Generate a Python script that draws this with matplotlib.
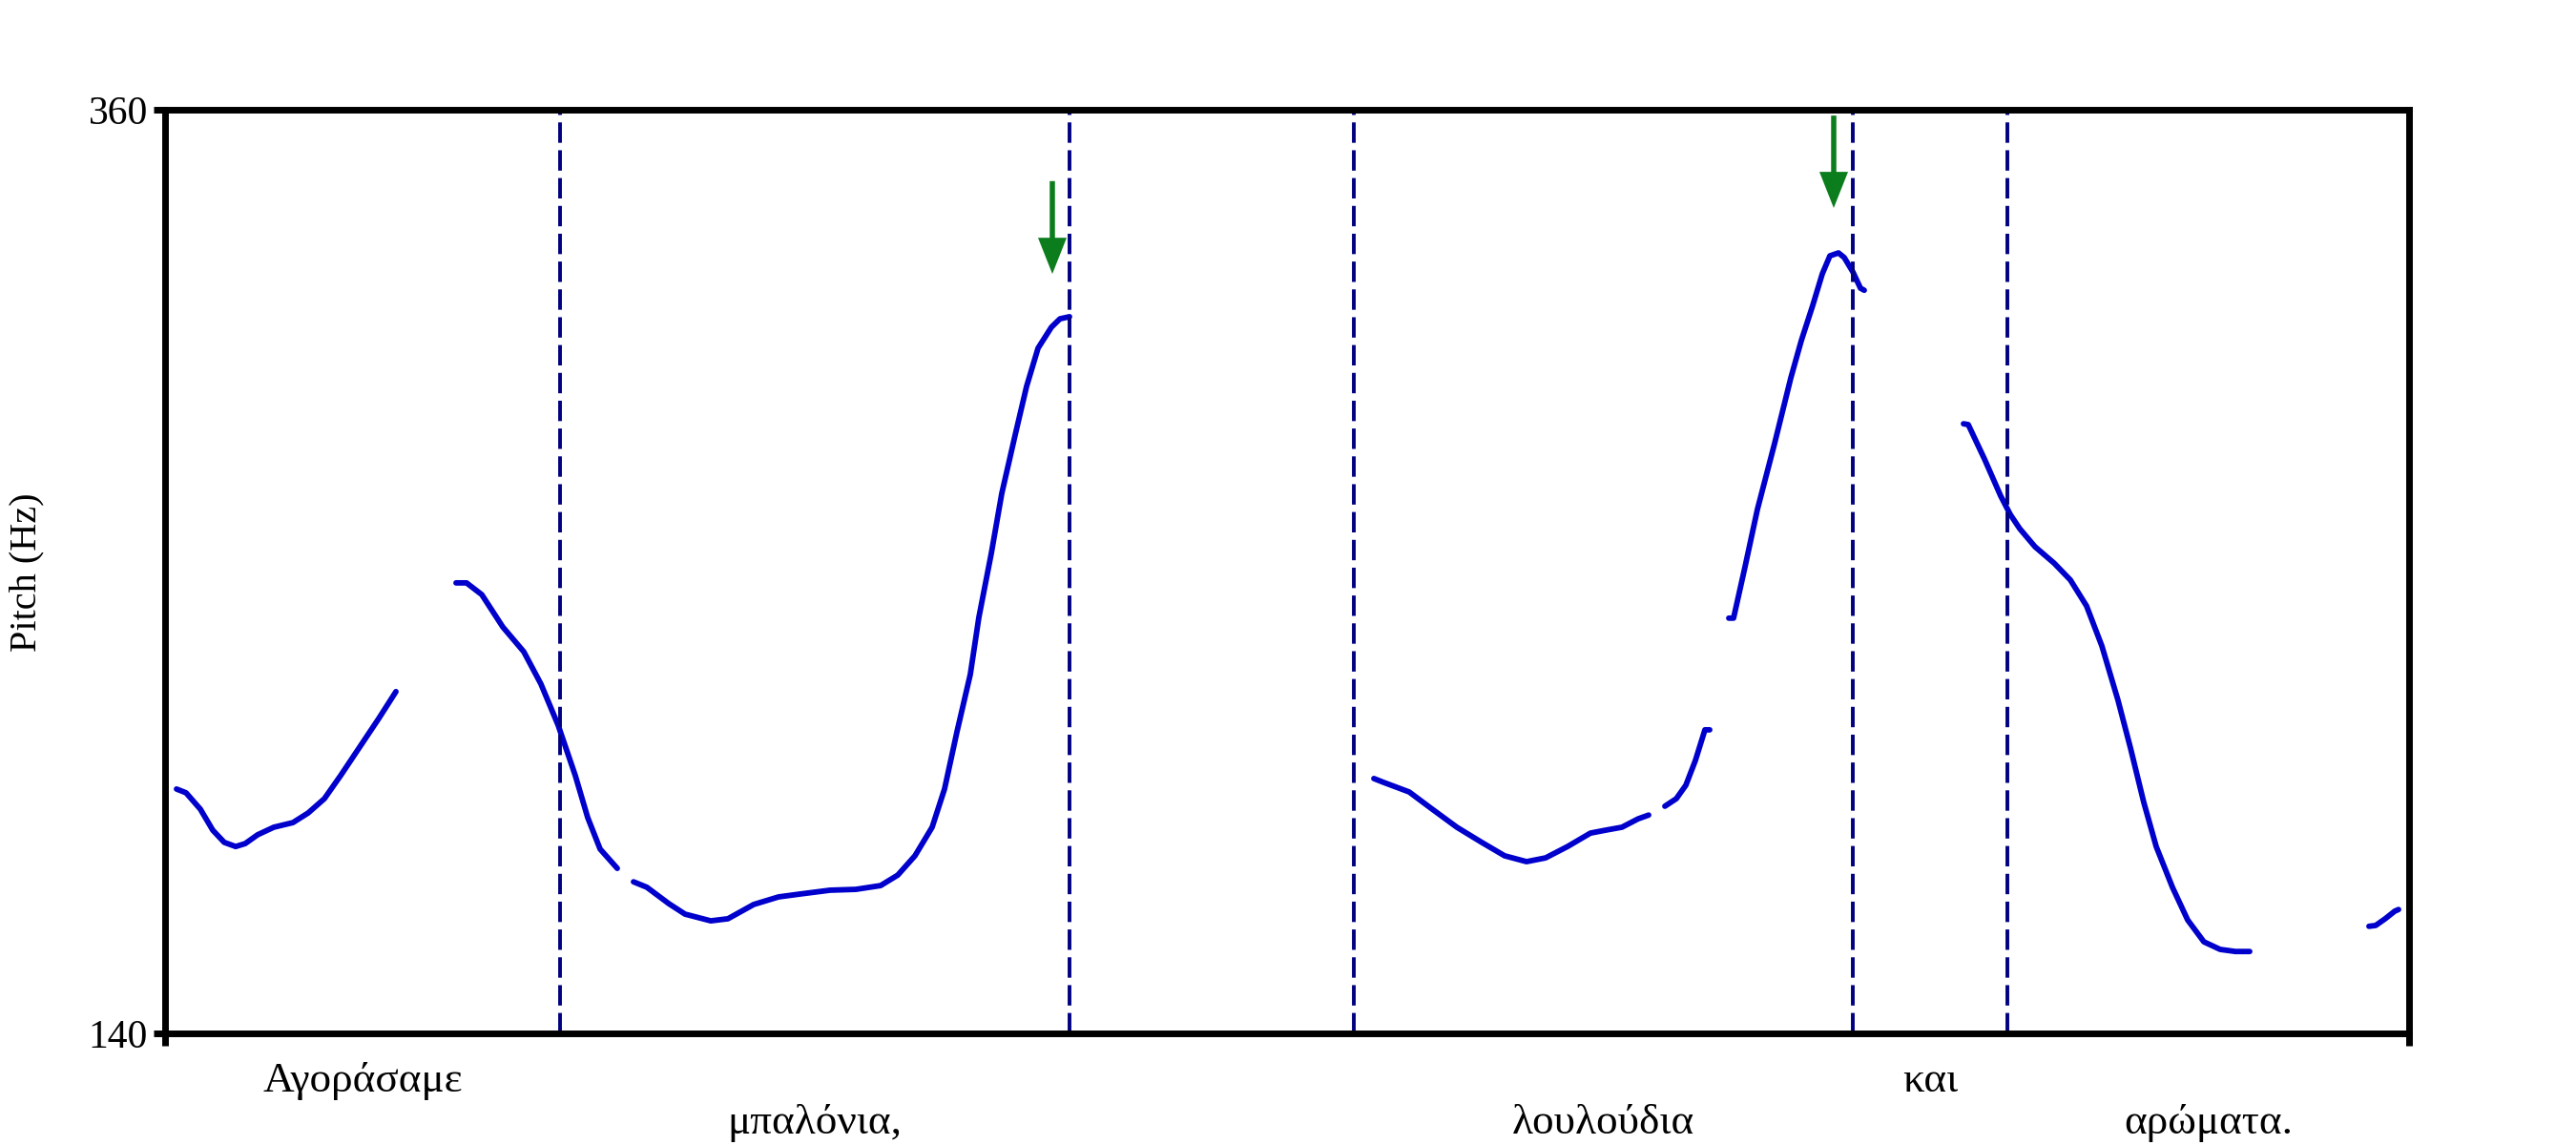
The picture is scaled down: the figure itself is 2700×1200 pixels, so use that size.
import matplotlib
matplotlib.use('Agg')
import matplotlib.pyplot as plt
import matplotlib.transforms as mtransforms

plt.rcParams['font.family'] = ['Liberation Serif', 'DejaVu Serif']

# pitch track segments (time in s, pitch in Hz)
seg1_t = [0.012, 0.022, 0.037, 0.050, 0.062, 0.074, 0.084, 0.097, 0.114, 0.134, 0.150, 0.167, 0.184, 0.204, 0.224, 0.242]
seg1_f = [198.2, 197.3, 193.4, 188.4, 185.5, 184.5, 185.2, 187.3, 189.1, 190.2, 192.5, 195.9, 201.4, 208.2, 215.0, 221.4]

seg2_t = [0.305, 0.316, 0.332, 0.354, 0.376, 0.394, 0.412, 0.430, 0.443, 0.456, 0.474]
seg2_f = [247.3, 247.3, 244.5, 236.8, 230.9, 223.2, 213.4, 201.4, 191.4, 183.9, 179.3]

seg3_t = [0.491, 0.505, 0.528, 0.545, 0.572, 0.590, 0.617, 0.643, 0.666, 0.697, 0.724, 0.750, 0.768, 0.786,
          0.804, 0.817, 0.830, 0.844, 0.853, 0.866, 0.877, 0.891, 0.903, 0.915, 0.929, 0.938, 0.948]
seg3_f = [176.1, 174.8, 170.9, 168.4, 166.8, 167.3, 170.7, 172.5, 173.2, 174.1, 174.3, 175.2, 177.7, 182.3,
          189.1, 198.2, 211.8, 225.5, 239.1, 254.3, 268.6, 282.5, 294.1, 303.2, 308.2, 310.2, 310.7]

seg4_t = [1.267, 1.277, 1.304, 1.327, 1.354, 1.380, 1.404, 1.427, 1.447, 1.470, 1.494, 1.510, 1.527, 1.544, 1.555]
seg4_f = [200.7, 199.8, 197.5, 193.6, 189.1, 185.5, 182.3, 180.9, 181.8, 184.5, 187.7, 188.4, 189.1, 191.1, 192.0]

seg5_t = [1.572, 1.584, 1.594, 1.604, 1.614, 1.619]
seg5_f = [194.1, 195.9, 199.1, 205.0, 212.3, 212.3]

seg6_t = [1.639, 1.644, 1.656, 1.669, 1.687, 1.704, 1.715, 1.727, 1.737, 1.745, 1.754, 1.760, 1.769, 1.777, 1.781]
seg6_f = [238.9, 238.9, 251.1, 264.8, 280.5, 296.1, 305.0, 313.4, 320.9, 325.2, 325.9, 324.8, 321.4, 317.5, 317.0]

seg7_t = [1.885, 1.890, 1.907, 1.924, 1.934, 1.944, 1.960, 1.980, 1.997, 2.014, 2.030, 2.047, 2.060, 2.074,
          2.087, 2.104, 2.120, 2.137, 2.154, 2.170, 2.185]
seg7_f = [285.2, 285.0, 276.8, 268.0, 263.6, 260.2, 255.9, 252.0, 248.0, 241.8, 232.3, 219.3, 208.0, 195.0,
          184.5, 174.8, 167.0, 161.8, 160.0, 159.5, 159.5]

seg8_t = [2.310, 2.317, 2.327, 2.337, 2.341]
seg8_f = [165.5, 165.7, 167.3, 169.1, 169.5]

segments = [(seg1_t, seg1_f), (seg2_t, seg2_f), (seg3_t, seg3_f), (seg4_t, seg4_f),
            (seg5_t, seg5_f), (seg6_t, seg6_f), (seg7_t, seg7_f), (seg8_t, seg8_f)]

# word boundaries and labels
t_end = 2.352
boundaries = [0.414, 0.948, 1.246, 1.769, 1.931]
words = ['Αγοράσαμε', 'μπαλόνια,', '', 'λουλούδια', 'και', 'αρώματα.']

# arrows marking the peaks
arrow_x = [0.930, 1.749]
arrow_top = [343.0, 358.6]
arrow_tip = [320.9, 336.6]

fmin, fmax = 140, 360

fig = plt.figure(figsize=(27, 12), dpi=100)
ax = fig.add_axes([173 / 2700, 1 - 1083 / 1200, (2525 - 173) / 2700, (1083 - 115) / 1200])

for t, f in segments:
    ax.plot(t, f, color='#0000cc', lw=4.2, solid_capstyle='round', solid_joinstyle='round')

for b in boundaries:
    ax.axvline(b, color='#000080', lw=2.8, linestyle=(0, (5.5, 2.0)))

for x, y0, y1 in zip(arrow_x, arrow_top, arrow_tip):
    ax.arrow(x, y0, 0, y1 - y0, width=0.0055, head_width=0.030, head_length=8.6,
             length_includes_head=True, color='#0b7d1c', lw=0)

ax.set_xlim(0, t_end)
ax.set_ylim(fmin, fmax)
ax.set_yticks([fmin, fmax])
ax.set_yticklabels([str(fmin), str(fmax)])
ax.set_xticks([0, t_end])
ax.set_xticklabels(['', ''])
ax.tick_params(direction='out', length=9, width=5, labelsize=30, pad=4)
for s in ax.spines.values():
    s.set_linewidth(5)

fig.text(28 / 2700, 1 - 600 / 1200, 'Pitch (Hz)', rotation=90, ha='center', va='center', fontsize=29)

# word labels centred in their intervals, alternating rows
edges = [0] + boundaries + [t_end]
trans = mtransforms.blended_transform_factory(ax.transData, ax.transAxes)
row_y = [-0.0517, -0.0971]
for i, w in enumerate(words):
    if w:
        xc = (edges[i] + edges[i + 1]) / 2
        ax.text(xc, row_y[i % 2], w, transform=trans, ha='center', va='center', fontsize=32.5)

fig.savefig('out.png', dpi=100)
